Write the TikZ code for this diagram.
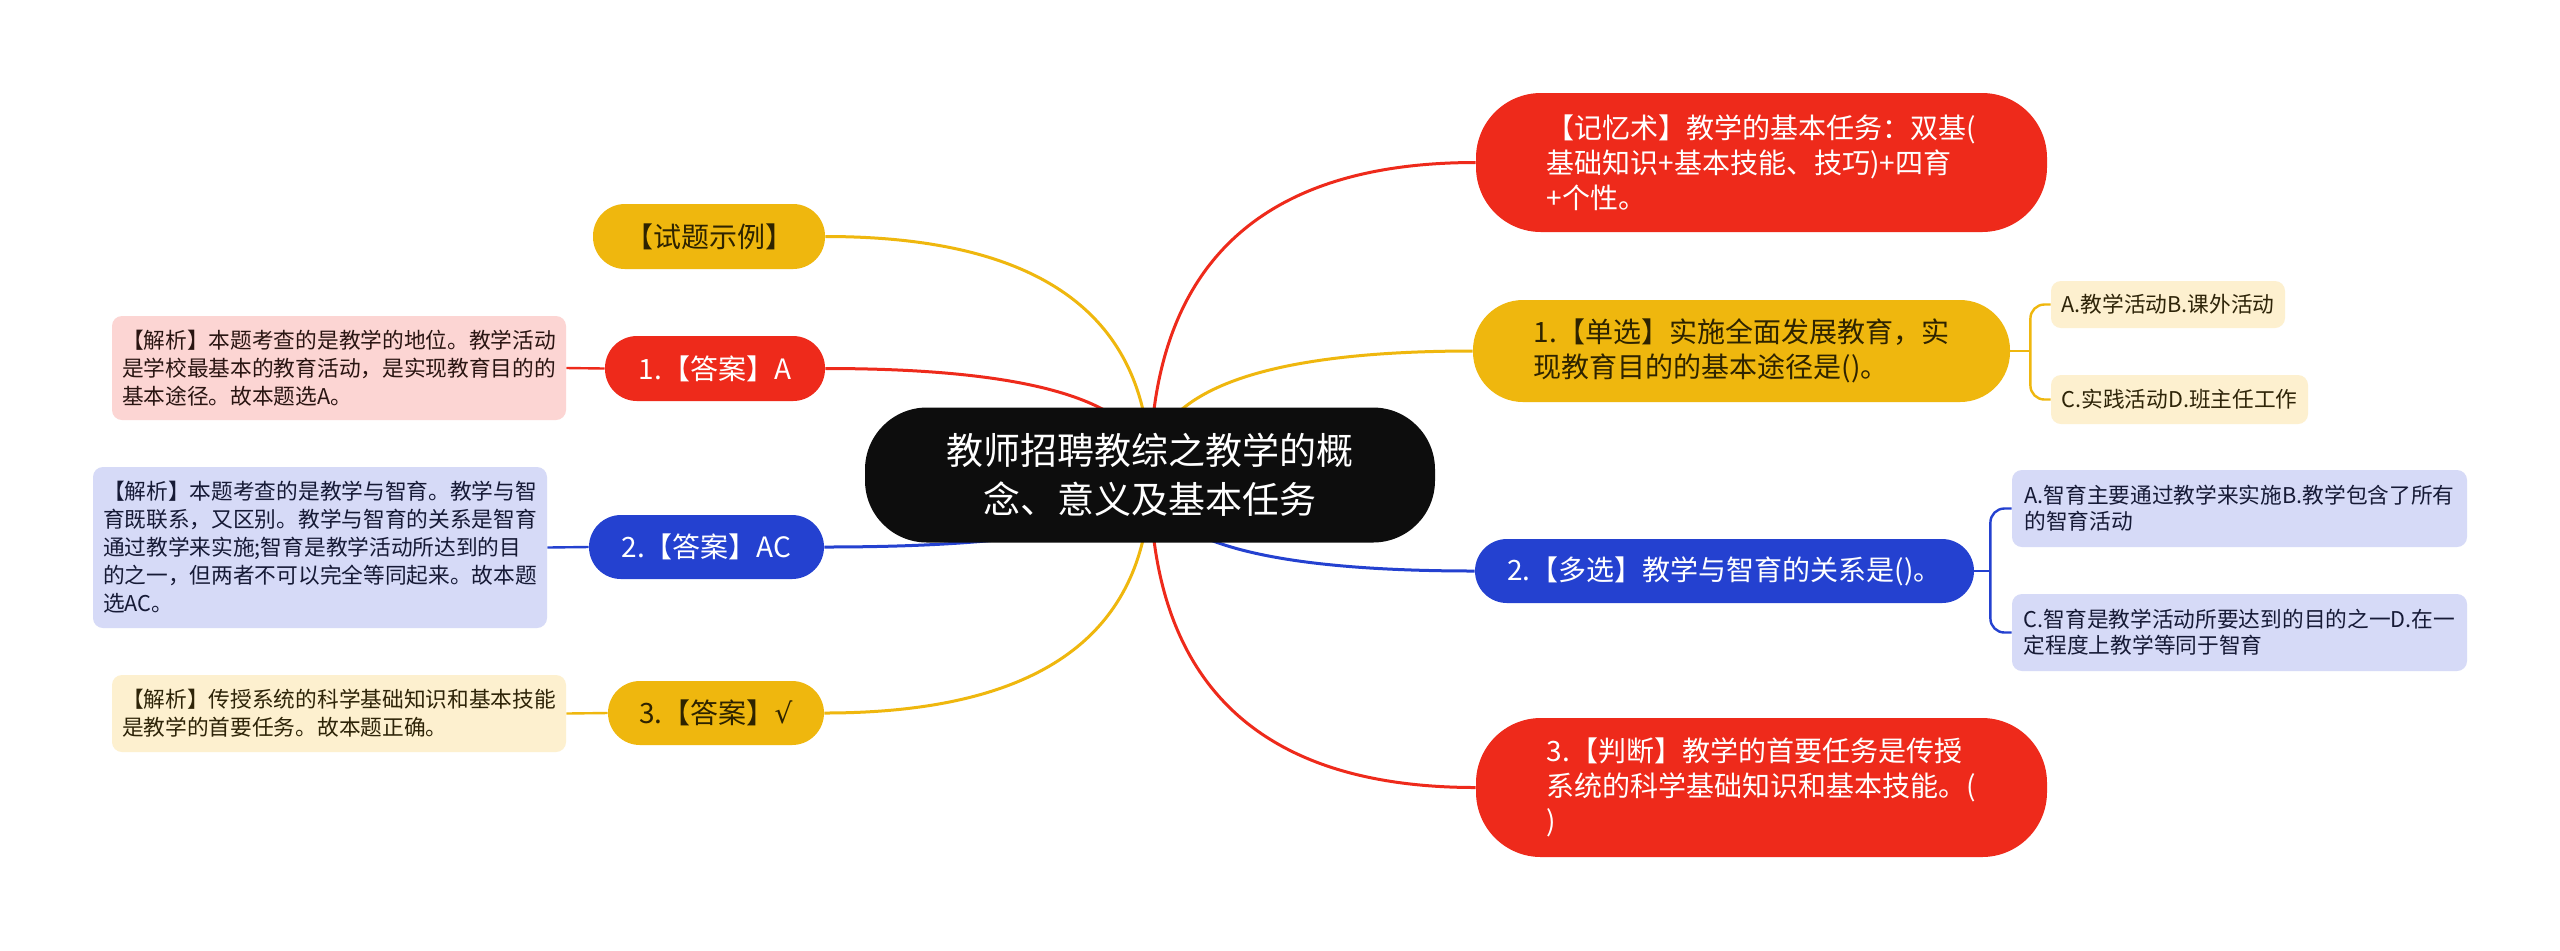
\documentclass[tikz,border=0pt]{standalone}
\usepackage{fontspec}
\setmainfont{Noto Sans CJK SC}
\newfontfamily\symfont{DejaVu Sans}
\usetikzlibrary{calc}
\definecolor{cYel}{HTML}{EFB70E}
\definecolor{cRed}{HTML}{EE2A1B}
\definecolor{cBlu}{HTML}{2441D0}
\definecolor{cBlk}{HTML}{0D0D0D}
\definecolor{cPink}{HTML}{FCD5D3}
\definecolor{cLav}{HTML}{D6DAF7}
\definecolor{cCream}{HTML}{FDF0CF}
\definecolor{tYel}{HTML}{2E2300}
\definecolor{tPink}{HTML}{2A1512}
\definecolor{tLav}{HTML}{161A36}
\definecolor{tCream}{HTML}{2E2408}
\pgfdeclarelayer{paper}
\pgfdeclarelayer{bg}
\pgfsetlayers{paper,bg,main}
\newcommand\qconn[2]{%
  \coordinate (qtmp) at (ctr.center |- #2);
  \draw[#1,conn] (ctr.center) .. controls ($(ctr.center)!0.6667!(qtmp)$) and ($(#2)!0.6667!(qtmp)$) .. (#2);}
\tikzset{
  sz/.style 2 args={minimum width=#1*0.5pt, minimum height=#2*0.5pt, inner sep=0pt},
  pill/.style={rounded corners=#1*0.5pt, align=left, font=\fontsize{14pt}{17.5pt}\selectfont},
  note/.style={rounded corners=5pt, align=left, font=\fontsize{10.85pt}{14pt}\selectfont},
  gnote/.style={rounded corners=5pt, align=left, font=\fontsize{10.85pt}{13pt}\selectfont},
  conn/.style={line width=1.5pt},
  thin/.style={line width=1.2pt},
}
\begin{document}
\begin{tikzpicture}[x=0.5pt,y=-0.5pt]
\useasboundingbox (0,0) rectangle (2560,950);
\begin{pgfonlayer}{paper}
\fill[white] (0,0) rectangle (2560,950);
\end{pgfonlayer}
% center
\node[sz={570}{135}, rounded corners=31pt, fill=cBlk, text=white, align=center,
      font=\fontsize{18.5pt}{24.5pt}\selectfont] (ctr) at (1150,475)
  {教师招聘教综之教学的概\\念、意义及基本任务};
% left side
\node[pill=32, sz={232}{65}, fill=cYel, text=tYel] (q0) at (709,236.5) {【试题示例】};
\node[pill=32, sz={220}{65}, fill=cRed, text=white] (a1) at (715,368.5) {1.【答案】A};
\node[note, sz={454}{104}, fill=cPink, text=tPink] (n1) at (339,368)
  {【解析】本题考查的是教学的地位。教学活动\\是学校最基本的教育活动，是实现教育目的的\\基本途径。故本题选A。};
\node[pill=32, sz={235}{64}, fill=cBlu, text=white] (a2) at (706.5,547) {2.【答案】AC};
\node[note, sz={454}{161}, fill=cLav, text=tLav] (n2) at (320,547.5)
  {【解析】本题考查的是教学与智育。教学与智\\育既联系，又区别。教学与智育的关系是智育\\通过教学来实施;智育是教学活动所达到的目\\的之一，但两者不可以完全等同起来。故本题\\选AC。};
\node[pill=32, sz={216}{64}, fill=cYel, text=tYel] (a3) at (716,713) {3.【答案】{\symfont √}};
\node[note, sz={454}{77}, fill=cCream, text=tCream] (n3) at (339,713.5)
  {【解析】传授系统的科学基础知识和基本技能\\是教学的首要任务。故本题正确。};
% right side
\node[pill=65, sz={571}{139}, fill=cRed, text=white] (r0) at (1761.5,162.5)
  {【记忆术】教学的基本任务：双基(\\基础知识+基本技能、技巧)+四育\\+个性。};
\node[pill=50, sz={537}{102}, fill=cYel, text=tYel] (r1) at (1741.5,351)
  {1.【单选】实施全面发展教育，实\\现教育目的的基本途径是()。};
\node[gnote, sz={234}{47}, fill=cCream, text=tCream] (g1a) at (2168,304.5) {A.教学活动B.课外活动};
\node[gnote, sz={257}{49}, fill=cCream, text=tCream] (g1b) at (2179.5,399.5) {C.实践活动D.班主任工作};
\node[pill=32, sz={499}{64}, fill=cBlu, text=white] (r2) at (1724.5,571)
  {2.【多选】教学与智育的关系是()。};
\node[gnote, sz={455}{77}, fill=cLav, text=tLav] (g2a) at (2239.5,508.5)
  {A.智育主要通过教学来实施B.教学包含了所有\\的智育活动};
\node[gnote, sz={455}{77}, fill=cLav, text=tLav] (g2b) at (2239.5,632.5)
  {C.智育是教学活动所要达到的目的之一D.在一\\定程度上教学等同于智育};
\node[pill=65, sz={571}{139}, fill=cRed, text=white] (r3) at (1761.5,787.5)
  {3.【判断】教学的首要任务是传授\\系统的科学基础知识和基本技能。(\\)};
% connectors
\coordinate (j1) at ($(r1.east)+(20,0)$);
\coordinate (j2) at ($(r2.east)+(16,0)$);
\begin{pgfonlayer}{bg}
\qconn{cYel}{q0.east}
\qconn{cRed}{a1.east}
\qconn{cBlu}{a2.east}
\qconn{cYel}{a3.east}
\qconn{cRed}{r0.west}
\qconn{cYel}{r1.west}
\qconn{cBlu}{r2.west}
\qconn{cRed}{r3.west}
\draw[cRed,thin] (a1.west) -- (n1.east);
\draw[cBlu,thin] (a2.west) -- (n2.east);
\draw[cYel,thin] (a3.west) -- (n3.east);
\draw[cYel,thin] (r1.east) -- (j1);
\draw[cYel,thin,rounded corners=7pt] (g1a.west) -| (j1) |- (g1b.west);
\draw[cBlu,thin] (r2.east) -- (j2);
\draw[cBlu,thin,rounded corners=7pt] (g2a.west) -| (j2) |- (g2b.west);
\end{pgfonlayer}
\end{tikzpicture}
\end{document}
